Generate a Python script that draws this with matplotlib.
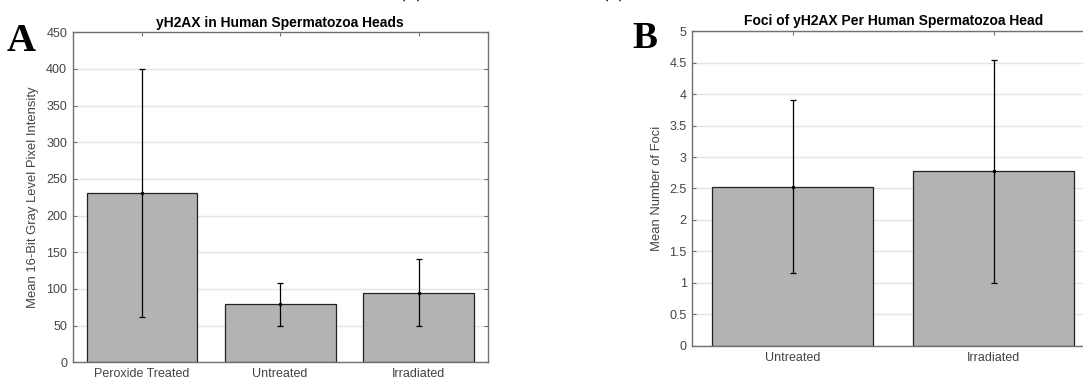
import matplotlib
matplotlib.use('Agg')
from matplotlib import pyplot as plt
import numpy as np

plt.rcParams['font.family'] = ['Liberation Sans', 'DejaVu Sans']

# panel A data
cats_a = ['Peroxide Treated', 'Untreated', 'Irradiated']
mean_a = [230.5, 79.0, 95.0]
err_a = [169.0, 29.0, 46.0]
title_a = 'yH2AX in Human Spermatozoa Heads'
ylabel_a = 'Mean 16-Bit Gray Level Pixel Intensity'
yticks_a = np.arange(0, 451, 50)

# panel B data
cats_b = ['Untreated', 'Irradiated']
mean_b = [2.53, 2.77]
err_b = [1.37, 1.77]
title_b = 'Foci of yH2AX Per Human Spermatozoa Head'
ylabel_b = 'Mean Number of Foci'
yticks_b = np.arange(0, 5.01, 0.5)
yticklabels_b = ['0', '0.5', '1', '1.5', '2', '2.5', '3', '3.5', '4', '4.5', '5']

SPINE = '#707070'
TXT = '#444444'
GRID = '#e4e4e4'
BAR = '#b3b3b3'

fig = plt.figure(figsize=(10.83, 3.81), dpi=100)


def panel(rect, cats, means, errs, title, ylabel, yticks, ylim, yticklabels=None):
    ax = fig.add_axes(rect)
    x = np.arange(1, len(cats) + 1)
    ax.bar(x, means, width=0.8, color=BAR, edgecolor='#222222', linewidth=0.9, zorder=2)
    ax.errorbar(x, means, yerr=errs, fmt='.', color='black', ecolor='black',
                elinewidth=0.9, capsize=2, capthick=0.9, markersize=3, zorder=3)
    ax.set_xlim(0.5, len(cats) + 0.5)
    ax.set_ylim(*ylim)
    ax.set_xticks(x)
    ax.set_xticklabels(cats)
    ax.set_yticks(yticks)
    if yticklabels is not None:
        ax.set_yticklabels(yticklabels)
    ax.yaxis.grid(True, color=GRID, linewidth=1.0, zorder=0)
    ax.set_axisbelow(True)
    ax.tick_params(direction='in', top=True, right=True, length=3, width=0.8,
                   color=SPINE, labelcolor=TXT, labelsize=9, pad=4)
    for s in ax.spines.values():
        s.set_color(SPINE)
        s.set_linewidth(1.0)
    ax.set_title(title, fontsize=10, fontweight='bold', color='black', pad=4)
    ax.set_ylabel(ylabel, fontsize=9.4, color=TXT, labelpad=5)
    return ax


ax_a = panel([0.0671, 0.0491, 0.3832, 0.8661], cats_a, mean_a, err_a, title_a,
             ylabel_a, yticks_a, (0, 450))
ax_b = panel([0.6392, 0.0919, 0.3710, 0.8267], cats_b, mean_b, err_b, title_b,
             ylabel_b, yticks_b, (0, 5), yticklabels_b)

# panel letters
fig.text(0.0065, 0.865, 'A', family='Liberation Serif', fontweight='bold',
         fontsize=29, color='black')
fig.text(0.584, 0.875, 'B', family='Liberation Serif', fontweight='bold',
         fontsize=27, color='black')

# caption line cut off at the top of the image (only descenders show)
fig.text(0.369, 1.004, '(A)', family='Liberation Serif', fontweight='bold',
         fontsize=12, color='black', va='baseline')
fig.text(0.556, 1.004, '(B)', family='Liberation Serif', fontweight='bold',
         fontsize=12, color='black', va='baseline')

fig.savefig('out.png', dpi=100)
